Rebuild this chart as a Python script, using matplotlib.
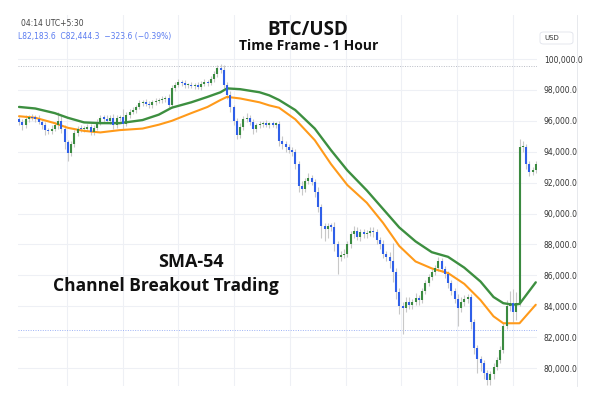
import matplotlib
matplotlib.use("Agg")
import matplotlib.pyplot as plt
from matplotlib.patches import FancyBboxPatch
from matplotlib.lines import Line2D
import numpy as np

# BTC/USD 1h candles, prices in thousands of USD
close = [95.9, 95.7, 96.1, 96.25, 96.2, 96.15, 95.95, 95.7, 95.4, 95.35,
         95.5, 95.7, 96.0, 95.5, 94.6, 93.9, 94.5, 95.2, 95.5, 95.45,
         95.5, 95.6, 95.3, 95.55, 95.9, 96.2, 96.15, 96.0, 96.2, 95.75,
         96.2, 96.25, 95.8, 96.4, 96.6, 96.7, 96.9, 97.15, 97.2, 97.1,
         97.0, 97.2, 97.3, 97.35, 97.4, 97.45, 97.05, 98.1, 98.35, 98.5,
         98.45, 98.3, 98.3, 98.25, 98.3, 98.2, 98.4, 98.5, 98.45, 98.7,
         99.0, 99.45, 99.3, 98.3, 97.7, 96.9, 96.0, 95.1, 95.6, 96.1,
         96.2, 95.9, 95.45, 95.7, 95.8, 95.85, 95.75, 95.8, 95.75, 95.8,
         94.7, 94.5, 94.3, 94.1, 94.0, 93.2, 91.8, 91.6, 92.1, 92.3,
         92.05, 91.4, 90.4, 89.2, 89.0, 89.2, 89.15, 88.0, 87.2, 87.3,
         87.4, 88.0, 88.7, 88.9, 88.5, 88.8, 88.65, 88.75, 88.9, 88.8,
         88.3, 88.0, 87.4, 87.2, 86.9, 86.2, 84.9, 84.0, 83.9, 84.3,
         84.1, 84.3, 84.55, 84.4, 85.0, 85.5, 85.9, 86.2, 86.5, 86.9,
         86.4, 86.1, 85.5, 85.0, 84.5, 83.9, 84.3, 84.5, 84.6, 83.0,
         81.3, 80.6, 80.3, 79.7, 79.2, 79.6, 80.1, 80.5, 81.2, 82.7,
         84.0, 84.2, 83.6, 84.2, 94.3, 94.3, 93.2, 92.7, 92.8, 93.2]
first_open = 96.1

# wick lengths above / below the body
wick_up = [0.15, 0.2, 0.3, 0.15, 0.2, 0.15, 0.2, 0.15, 0.2, 0.15,
           0.2, 0.25, 0.6, 0.3, 0.2, 0.15, 0.2, 0.2, 0.15, 0.2,
           0.15, 0.2, 0.2, 0.15, 0.2, 0.2, 0.15, 0.2, 0.2, 0.25,
           0.2, 0.15, 0.5, 0.2, 0.15, 0.2, 0.15, 0.2, 0.15, 0.2,
           0.2, 0.15, 0.2, 0.15, 0.2, 0.15, 0.3, 0.2, 0.15, 0.2,
           0.15, 0.2, 0.15, 0.2, 0.15, 0.2, 0.15, 0.2, 0.15, 0.2,
           0.2, 0.15, 0.2, 0.3, 0.2, 0.2, 0.15, 0.2, 0.25, 0.2,
           0.3, 0.2, 0.2, 0.15, 0.2, 0.15, 0.2, 0.15, 0.2, 0.15,
           0.2, 0.3, 0.2, 0.2, 0.2, 0.2, 0.2, 0.3, 0.2, 0.3,
           0.2, 0.2, 0.3, 0.2, 0.2, 0.2, 0.2, 0.3, 0.2, 0.3,
           0.3, 0.2, 0.2, 0.3, 0.2, 0.2, 0.2, 0.2, 0.2, 0.2,
           0.2, 0.2, 0.3, 0.2, 0.3, 1.2, 0.3, 0.3, 0.3, 0.3,
           0.3, 0.2, 0.3, 0.2, 0.2, 0.2, 0.2, 0.2, 0.2, 0.3,
           0.2, 0.2, 0.2, 0.2, 0.2, 0.3, 0.3, 0.2, 0.2, 0.2,
           0.2, 0.2, 0.2, 0.2, 0.2, 0.2, 0.2, 0.2, 0.2, 0.2,
           0.4, 0.8, 0.9, 0.7, 0.5, 0.4, 0.2, 0.2, 0.2, 0.2]
wick_dn = [0.2, 0.3, 0.15, 0.2, 0.15, 0.2, 0.15, 0.2, 0.3, 0.2,
           0.2, 0.15, 0.2, 0.3, 0.4, 0.5, 0.2, 0.2, 0.15, 0.2,
           0.2, 0.15, 0.2, 0.2, 0.15, 0.2, 0.2, 0.15, 0.2, 0.3,
           0.2, 0.2, 0.3, 0.15, 0.2, 0.15, 0.2, 0.15, 0.2, 0.15,
           0.2, 0.15, 0.2, 0.15, 0.2, 0.15, 0.3, 0.2, 0.2, 0.15,
           0.2, 0.15, 0.2, 0.15, 0.2, 0.15, 0.2, 0.15, 0.2, 0.15,
           0.2, 0.15, 0.2, 0.2, 0.3, 0.3, 0.3, 0.3, 0.2, 0.2,
           0.2, 0.2, 0.3, 0.2, 0.15, 0.2, 0.15, 0.2, 0.15, 0.2,
           0.3, 0.3, 0.3, 0.2, 0.3, 0.3, 0.4, 0.4, 0.2, 0.2,
           0.2, 0.3, 0.3, 0.8, 0.8, 0.6, 0.3, 0.4, 1.1, 0.3,
           0.2, 0.2, 0.2, 0.3, 0.2, 0.3, 0.2, 0.2, 0.2, 0.3,
           0.3, 0.3, 0.3, 0.3, 0.4, 0.6, 0.4, 0.5, 1.7, 0.3,
           0.3, 0.3, 0.2, 0.3, 0.2, 0.2, 0.2, 0.2, 0.2, 0.2,
           0.2, 0.3, 0.3, 0.3, 0.3, 1.2, 0.3, 0.3, 0.3, 0.5,
           0.4, 0.9, 0.5, 0.4, 0.3, 0.3, 0.3, 0.2, 0.2, 0.2,
           0.2, 0.3, 0.6, 0.5, 0.2, 0.3, 0.3, 0.3, 0.2, 0.2]

# SMA-54 channel (upper = green, lower = orange), read at candle indices
ma_idx = [0, 5, 11, 15, 20, 25, 31, 38, 43, 47, 53, 58, 62, 64, 68, 74, 77, 80,
          85, 91, 96, 101, 107, 112, 117, 122, 127, 132, 137, 142, 146, 149,
          152, 154, 159]
ma_high = [96.9, 96.8, 96.5, 96.2, 95.9, 95.85, 95.85, 96.05, 96.4, 96.85, 97.2,
           97.55, 97.85, 98.1, 98.05, 97.85, 97.65, 97.35, 96.7, 95.5, 94.1,
           92.8, 91.5, 90.3, 89.1, 88.2, 87.5, 87.2, 86.5, 85.6, 84.6, 84.2,
           84.1, 84.15, 85.55]
ma_low = [96.3, 96.2, 95.85, 95.55, 95.35, 95.25, 95.4, 95.5, 95.75, 96.0, 96.5,
          96.9, 97.35, 97.55, 97.45, 97.2, 97.0, 96.85, 96.1, 94.75, 93.2,
          91.85, 90.7, 89.4, 87.9, 86.9, 86.45, 86.15, 85.45, 84.4, 83.35, 82.9,
          82.9, 82.9, 84.1]

price_ticks = [80, 82, 84, 86, 88, 90, 92, 94, 96, 98, 100]
high_line = 99.55
last_line = 82.44

c = np.array(close)
o = np.array([first_open] + close[:-1])
hi = np.maximum(o, c) + np.array(wick_up)
lo = np.minimum(o, c) - np.array(wick_dn)
x = np.arange(len(c))

fig = plt.figure(figsize=(6, 4), dpi=100)
ax = fig.add_axes([18/600, 1 - 386/400, (537 - 18)/600, (386 - 15)/400])

ax.vlines(x, lo, hi, color="#c8c8c8", lw=0.8, zorder=3)
cols = np.where(c >= o, "#3a8a40", "#2f5fe8")
body_lo = np.minimum(o, c)
body_hi = np.maximum(np.maximum(o, c), body_lo + 0.08)
ax.vlines(x, body_lo, body_hi, colors=cols, lw=1.5, zorder=5, capstyle="butt")

ax.plot(ma_idx, ma_high, color="#3d8f40", lw=1.7, zorder=4, solid_capstyle="round")
ax.plot(ma_idx, ma_low, color="#ff9a1a", lw=1.5, zorder=4, solid_capstyle="round")

ax.axhline(high_line, color="#b8bbc4", lw=0.7, ls=(0, (1, 1.5)), zorder=2)
ax.axhline(last_line, color="#9db2f5", lw=0.7, ls=(0, (1, 1.5)), zorder=2)

ax.set_xlim(-0.31, 159.38)
ax.set_ylim(78.84, 102.85)

ax.set_yticks(price_ticks)
ax.set_yticklabels([f"{v*1000:,.1f}" for v in price_ticks])
ax.yaxis.tick_right()
ax.tick_params(axis="y", length=0, pad=5, labelsize=5.5, labelcolor="#333333")
ax.set_xticks([14.77 + 17.14*k for k in range(9)])
ax.tick_params(axis="x", length=0, labelbottom=False)
ax.grid(True, color="#eef0f5", lw=0.8, zorder=0)
for s in ax.spines.values():
    s.set_visible(False)

fig.add_artist(Line2D([577/600, 577/600], [1 - 15/400, 1 - 386/400],
                      color="#e3e5ea", lw=0.6))
fig.add_artist(FancyBboxPatch((540/600, 1 - 44/400), 33/600, 12/400,
                              boxstyle="round,pad=0,rounding_size=0.006",
                              fc="white", ec="#e0e3eb", lw=0.6))
fig.text(544/600, 1 - 38/400, "USD", size=5, color="#333333", va="center")

fig.text(21/600, 1 - 23/400, "04:14 UTC+5:30", size=5.5, color="#444444", va="center")
fig.text(18/600, 1 - 37/400, "L82,183.6  C82,444.3  \u2212323.6 (\u22120.39%)",
         size=5.5, color="#5b7cf0", va="center")

fig.text(308/600, 1 - 30/400, "BTC/USD", size=13.5, weight="bold",
         family="Open Sans", ha="center", va="center", color="#111111")
fig.text(309/600, 1 - 46/400, "Time Frame - 1 Hour", size=10, weight="bold",
         family="Open Sans", ha="center", va="center", color="#111111")
fig.text(191/600, 1 - 262/400, "SMA-54", size=13, weight="bold",
         family="Open Sans", ha="center", va="center", color="#111111")
fig.text(166/600, 1 - 286/400, "Channel Breakout Trading", size=12.5, weight="bold",
         family="Open Sans", ha="center", va="center", color="#111111")

fig.savefig("out.png", dpi=100)
